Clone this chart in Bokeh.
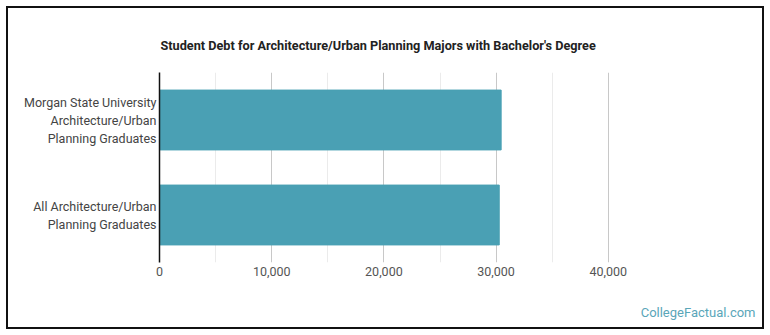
from bokeh.plotting import figure
from bokeh.models import Range1d, FactorRange, FixedTicker, Title, NumeralTickFormatter
from bokeh.embed import file_html
from bokeh.resources import INLINE

categories = ["All Architecture/Urban\nPlanning Graduates",
              "Morgan State University\nArchitecture/Urban\nPlanning Graduates"]
values = [30280, 30450]
x_ticks = [0, 10000, 20000, 30000, 40000]
x_minor = [5000, 15000, 25000, 35000]
title_text = "Student Debt for Architecture/Urban Planning Majors with Bachelor's Degree"
watermark = "CollegeFactual.com"

W, H = 770, 335
FL, FT, FR, FB = 159, 72, 720, 262  # frame edges on the canvas

p = figure(width=W, height=H, output_backend="svg", toolbar_location=None,
           y_range=FactorRange(*categories, range_padding=0),
           x_range=Range1d(0, 50000),
           min_border_left=FL, min_border_top=FT,
           min_border_right=W - FR, min_border_bottom=H - FB)
p.styles = {"outline": "2px solid #111", "outline-offset": "-8px",
            "background-color": "white"}
p.outline_line_color = None
p.background_fill_color = "white"
p.border_fill_alpha = 0

p.title.text = title_text
p.title.align = "left"
p.title.offset = 1
p.title.standoff = 39
p.title.text_font = "Roboto"
p.title.text_font_style = "bold"
p.title.text_font_size = "12.7px"
p.title.text_color = "#222222"

p.add_layout(Title(text="\n" + watermark, align="right", offset=-35, standoff=19,
                   text_font="Roboto", text_font_style="normal", text_font_size="13px",
                   text_color="#5aa6b9"), "below")

p.hbar(y=categories, right=values, left=0, height=0.63, color="#4aa0b4")

p.ygrid.grid_line_color = None
p.xgrid.ticker = FixedTicker(ticks=x_ticks, minor_ticks=x_minor)
p.xgrid.grid_line_color = "#c8c8c8"
p.xgrid.minor_grid_line_color = "#ebebeb"

p.xaxis.ticker = FixedTicker(ticks=x_ticks)
p.xaxis.formatter = NumeralTickFormatter(format="0,0")
p.xaxis.axis_line_color = None
p.xaxis.major_tick_line_color = None
p.xaxis.minor_tick_line_color = None
p.xaxis.major_label_standoff = -2
p.xaxis.major_label_text_font = "Roboto"
p.xaxis.major_label_text_font_size = "12.5px"
p.xaxis.major_label_text_color = "#555555"

p.yaxis.axis_line_color = "#111111"
p.yaxis.axis_line_width = 1.5
p.yaxis.major_tick_line_color = None
p.yaxis.minor_tick_line_color = None
p.yaxis.major_label_standoff = -3
p.yaxis.major_label_text_font = "Roboto"
p.yaxis.major_label_text_font_size = "12.5px"
p.yaxis.major_label_text_color = "#444444"

open("out.html", "w").write(file_html(p, INLINE))
